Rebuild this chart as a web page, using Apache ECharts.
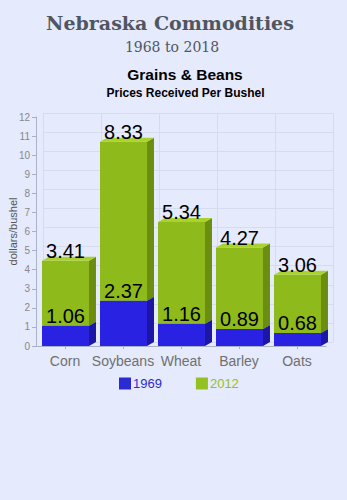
<!DOCTYPE html>
<html><head><meta charset="utf-8">
<script src="https://cdn.jsdelivr.net/npm/echarts@6/dist/echarts.min.js"></script>
<style>html,body{margin:0;padding:0;background:#e5eafd;}#c{width:347px;height:500px;}</style>
</head><body><div id="c"></div>
<script>
// ---- data ----
const categories = ['Corn', 'Soybeans', 'Wheat', 'Barley', 'Oats'];
const values1969 = [1.06, 2.37, 1.16, 0.89, 0.68];
const values2012 = [3.41, 8.33, 5.34, 4.27, 3.06];
const seriesNames = ['1969', '2012'];
const yMin = 0, yMax = 12, yStep = 1;

// ---- styles ----
const C1969 = {front: '#2a22e2', side: '#1b16a6', top: '#4a44f0', legend: '#2b2bd4'};
const C2012 = {front: '#8fba1c', side: '#6c8e10', top: '#a9d22e', legend: '#94c11f'};
const DX = 7, DY = 4, BAR_RATIO = 0.81;

// stacked table built from the arrays: [categoryIndex, base, top, value]
const rows1969 = categories.map((c, i) => [i, 0, values1969[i], values1969[i]]);
const rows2012 = categories.map((c, i) => [i, values1969[i], values1969[i] + values2012[i], values2012[i]]);
const labelRows = rows1969.concat(rows2012);

function bar3d(col) {
  return function (params, api) {
    const idx = api.value(0), base = api.value(1), top = api.value(2);
    const p0 = api.coord([idx, base]);
    const p1 = api.coord([idx, top]);
    const band = api.size([1, 0])[0];
    const w = band * BAR_RATIO;
    const cx = p0[0] + 0.5;
    const xl = cx - w / 2, xr = cx + w / 2;
    const yb = p0[1], yt = p1[1];
    return {
      type: 'group',
      children: [
        {type: 'polygon', shape: {points: [[xl, yb], [xr, yb], [xr, yt], [xl, yt]]}, style: {fill: col.front}},
        {type: 'polygon', shape: {points: [[xr, yb], [xr + DX, yb - DY], [xr + DX, yt - DY], [xr, yt]]}, style: {fill: col.side}},
        {type: 'polygon', shape: {points: [[xl, yt], [xr, yt], [xr + DX, yt - DY], [xl + DX, yt - DY]]}, style: {fill: col.top}}
      ]
    };
  };
}

function labelItem(params, api) {
  const idx = api.value(0), top = api.value(2), v = api.value(3);
  const p = api.coord([idx, top]);
  return {
    type: 'text',
    style: {
      text: v.toFixed(2), x: p[0] + 0.5, y: p[1] - DY + 4,
      fill: '#000', font: '20px "Liberation Sans", Arial, sans-serif',
      align: 'center', verticalAlign: 'bottom'
    }
  };
}

const chart = echarts.init(document.getElementById('c'), null, {renderer: 'svg'});
const GRID = {left: 36, right: 21, top: 117, bottom: 154, containLabel: false, outerBoundsMode: 'none'};
chart.setOption({
  backgroundColor: '#e5eafd',
  animation: false,
  graphic: [
    {type: 'text', x: 170, y: 23, style: {text: 'Nebraska Commodities', fill: '#50565f', font: 'bold 19px "DejaVu Serif", serif', align: 'center', verticalAlign: 'middle'}},
    {type: 'text', x: 172, y: 47, style: {text: '1968 to 2018', fill: '#50565f', font: '14px "DejaVu Serif", serif', align: 'center', verticalAlign: 'middle'}},
    {type: 'text', x: 185, y: 74, style: {text: 'Grains & Beans', fill: '#000', font: 'bold 15.5px "Liberation Sans", Arial, sans-serif', align: 'center', verticalAlign: 'middle'}},
    {type: 'text', x: 185.5, y: 93, style: {text: 'Prices Received Per Bushel', fill: '#000', font: 'bold 12px "Liberation Sans", Arial, sans-serif', align: 'center', verticalAlign: 'middle'}}
  ],
  grid: [
    GRID,
    {left: GRID.left + DX, right: GRID.right - DX, top: GRID.top - DY, bottom: GRID.bottom + DY, containLabel: false, outerBoundsMode: 'none'}
  ],
  xAxis: [
    {
      type: 'category', gridIndex: 0, data: categories, boundaryGap: true,
      axisLine: {lineStyle: {color: '#aab0c8'}},
      axisTick: {show: true, alignWithLabel: true, length: 3, lineStyle: {color: '#aab0c8'}},
      axisLabel: {interval: 0, color: '#707070', fontSize: 14, margin: 8, fontFamily: '"Liberation Sans", Arial, sans-serif'},
      splitLine: {show: false}
    },
    {
      type: 'category', gridIndex: 1, data: categories, boundaryGap: true,
      axisLine: {show: false}, axisTick: {show: false}, axisLabel: {show: false},
      splitLine: {show: true, interval: 0, lineStyle: {color: '#d6dcf0'}}
    }
  ],
  yAxis: [
    {
      type: 'value', gridIndex: 0, min: yMin, max: yMax, interval: yStep,
      name: 'dollars/bushel', nameLocation: 'middle', nameGap: 18, nameMoveOverlap: false,
      nameTextStyle: {color: '#555', fontSize: 11, fontFamily: '"Liberation Sans", Arial, sans-serif'},
      axisLine: {show: true, lineStyle: {color: '#aab0c8'}},
      axisTick: {show: true, length: 4, lineStyle: {color: '#aab0c8'}},
      axisLabel: {color: '#888', fontSize: 10, margin: 6, fontFamily: '"Liberation Sans", Arial, sans-serif'},
      splitLine: {show: false}
    },
    {
      type: 'value', gridIndex: 1, min: yMin, max: yMax, interval: yStep,
      axisLine: {show: false}, axisTick: {show: false}, axisLabel: {show: false},
      splitLine: {show: true, lineStyle: {color: '#d6dcf0'}}
    }
  ],
  legend: {
    left: 119, top: 377, padding: 0, itemWidth: 12, itemHeight: 12, itemGap: 34,
    icon: 'rect',
    data: [
      {name: seriesNames[0], textStyle: {color: C1969.legend}},
      {name: seriesNames[1], textStyle: {color: C2012.legend}}
    ],
    textStyle: {fontSize: 13, fontFamily: '"Liberation Sans", Arial, sans-serif', padding: [0, 0, 0, -3]}
  },
  series: [
    {name: seriesNames[0], type: 'custom', xAxisIndex: 0, yAxisIndex: 0, renderItem: bar3d(C1969),
      itemStyle: {color: C1969.legend}, encode: {x: 0, y: [1, 2]}, data: rows1969, z: 2},
    {name: seriesNames[1], type: 'custom', xAxisIndex: 0, yAxisIndex: 0, renderItem: bar3d(C2012),
      itemStyle: {color: C2012.legend}, encode: {x: 0, y: [1, 2]}, data: rows2012, z: 2},
    {name: 'labels', type: 'custom', xAxisIndex: 0, yAxisIndex: 0, renderItem: labelItem,
      encode: {x: 0, y: [1, 2]}, data: labelRows, z: 5, silent: true}
  ]
});
</script>
</body></html>
